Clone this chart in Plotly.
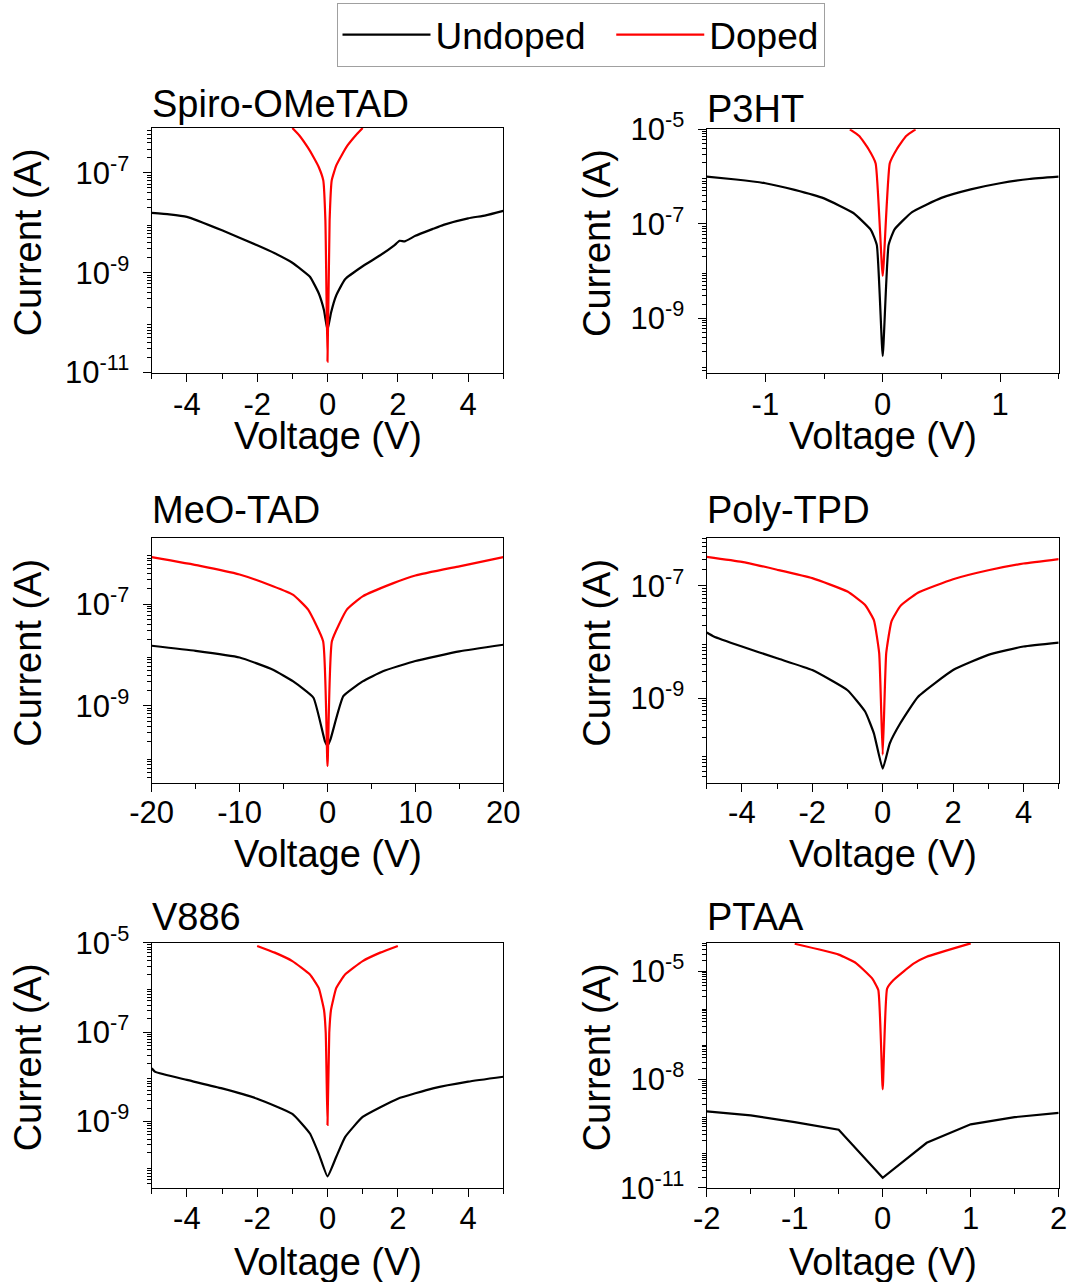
import plotly.graph_objects as go

W, H = 1072, 1282

# ---------------- data: voltage (V) and log10 of current (A) ----------------
spiro_undoped_v = [-5, -4.5, -4, -3, -2, -1.5, -1, -0.5, -0.25, -0.1, 0, 0.1, 0.25, 0.5, 1, 1.5, 1.9, 2.05, 2.2, 2.5, 3, 3.3, 4, 4.5, 5]
spiro_undoped_log = [-7.80, -7.83, -7.88, -8.15, -8.45, -8.61, -8.80, -9.08, -9.41, -9.75, -10.15, -9.80, -9.45, -9.13, -8.87, -8.65, -8.45, -8.36, -8.37, -8.26, -8.12, -8.04, -7.91, -7.85, -7.76]
spiro_doped_v = [-1, -0.8, -0.57, -0.4, -0.25, -0.12, -0.06, 0, 0.06, 0.12, 0.25, 0.4, 0.57, 0.8, 1]
spiro_doped_log = [-6.10, -6.25, -6.48, -6.68, -6.88, -7.15, -7.95, -10.78, -7.95, -7.15, -6.85, -6.65, -6.45, -6.25, -6.10]

p3ht_undoped_v = [-1.5, -1.25, -1, -0.75, -0.5, -0.25, -0.1, -0.05, 0, 0.05, 0.1, 0.25, 0.5, 0.75, 1, 1.25, 1.5]
p3ht_undoped_log = [-6.00, -6.06, -6.14, -6.28, -6.46, -6.77, -7.13, -7.45, -9.80, -7.45, -7.12, -6.75, -6.45, -6.27, -6.14, -6.05, -6.00]
p3ht_doped_v = [-0.28, -0.2, -0.12, -0.06, 0, 0.06, 0.12, 0.2, 0.28]
p3ht_doped_log = [-5.00, -5.14, -5.42, -5.72, -8.10, -5.72, -5.42, -5.14, -5.00]

meo_undoped_v = [-20, -15, -10, -6.2, -3.9, -1.6, -0.3, 0, 0.35, 1.8, 4, 6.3, 10, 15, 20]
meo_undoped_log = [-7.82, -7.92, -8.05, -8.29, -8.52, -8.84, -9.69, -9.78, -9.65, -8.81, -8.52, -8.32, -8.12, -7.93, -7.80]
meo_doped_v = [-20, -14.5, -10, -6.2, -3.9, -2.2, -0.5, 0, 0.5, 2.2, 4, 7.5, 10, 15, 20]
meo_doped_log = [-6.08, -6.25, -6.42, -6.65, -6.82, -7.11, -7.73, -10.18, -7.73, -7.11, -6.85, -6.59, -6.44, -6.26, -6.08]

ptpd_undoped_v = [-5, -4.8, -4, -3, -2, -1, -0.5, -0.25, 0, 0.2, 0.5, 1, 2, 3, 4, 5]
ptpd_undoped_log = [-7.83, -7.90, -8.08, -8.29, -8.50, -8.86, -9.24, -9.63, -10.26, -9.81, -9.45, -8.98, -8.50, -8.23, -8.08, -8.01]
ptpd_doped_v = [-5, -4, -3, -2, -1, -0.5, -0.25, -0.1, 0, 0.1, 0.25, 0.5, 1, 2, 3, 4, 5]
ptpd_doped_log = [-6.48, -6.57, -6.71, -6.86, -7.10, -7.34, -7.61, -8.20, -10.01, -8.20, -7.63, -7.36, -7.12, -6.88, -6.72, -6.60, -6.52]

v886_undoped_v = [-5, -4.9, -4, -3, -2, -1, -0.5, -0.25, 0, 0.25, 0.5, 1, 2, 3, 4, 5]
v886_undoped_log = [-7.81, -7.89, -8.07, -8.26, -8.49, -8.83, -9.27, -9.72, -10.23, -9.79, -9.35, -8.90, -8.49, -8.26, -8.11, -8.00]
v886_doped_v = [-2, -1.5, -1, -0.5, -0.25, -0.1, -0.05, 0, 0.05, 0.1, 0.25, 0.5, 1, 1.5, 2]
v886_doped_log = [-5.07, -5.22, -5.41, -5.71, -6.01, -6.50, -7.02, -9.08, -7.02, -6.50, -6.01, -5.71, -5.41, -5.22, -5.07]

ptaa_undoped_v = [-2, -1.5, -1, -0.5, 0, 0.5, 1, 1.5, 2]
ptaa_undoped_log = [-8.88, -8.99, -9.18, -9.39, -10.72, -9.75, -9.24, -9.04, -8.92]
ptaa_doped_v = [-1, -0.5, -0.3, -0.12, -0.05, 0, 0.05, 0.12, 0.35, 0.5, 1]
ptaa_doped_log = [-4.24, -4.54, -4.78, -5.20, -5.52, -8.27, -5.48, -5.25, -4.79, -4.60, -4.23]

panel_titles = ["Spiro-OMeTAD", "P3HT", "MeO-TAD", "Poly-TPD", "V886", "PTAA"]
series_names = ["Undoped", "Doped"]

# labelled and unlabelled decade ticks (exponents) per panel
spiro_ylab, spiro_yunl = [-11, -9, -7], [-10, -8]
p3ht_ylab, p3ht_yunl = [-9, -7, -5], [-10, -8, -6]
meo_ylab, meo_yunl = [-9, -7], [-10, -8, -6]
ptpd_ylab, ptpd_yunl = [-9, -7], [-10, -8]
v886_ylab, v886_yunl = [-9, -7, -5], [-10, -8, -6]
ptaa_ylab, ptaa_yunl = [-11, -8, -5], [-10, -9, -7, -6]

# ---------------- panel layout (pixels) ----------------
FONT = "Liberation Sans, Arial, sans-serif"
panels = [
    dict(title=panel_titles[0], und=(spiro_undoped_v, spiro_undoped_log), dop=(spiro_doped_v, spiro_doped_log),
         box=(151.7, 503.3, 128.0, 372.7), xr=[-5, 5], xmaj=[-4, -2, 0, 2, 4], xmin=[-5, -3, -1, 1, 3, 5],
         yr=[-11.002, -6.1], lab=spiro_ylab, unl=spiro_yunl, tb=117, xt=436, xso=-4, lin=False),
    dict(title=panel_titles[1], und=(p3ht_undoped_v, p3ht_undoped_log), dop=(p3ht_doped_v, p3ht_doped_log),
         box=(706.7, 1058.7, 129.3, 372.7), xr=[-1.5, 1.5], xmaj=[-1, 0, 1], xmin=[-1.5, -0.5, 0.5, 1.5],
         yr=[-10.15, -4.998], lab=p3ht_ylab, unl=p3ht_yunl, tb=121.7, xt=436, xso=-4, lin=False),
    dict(title=panel_titles[2], und=(meo_undoped_v, meo_undoped_log), dop=(meo_doped_v, meo_doped_log),
         box=(151.7, 503.3, 538.3, 783.3), xr=[-20, 20], xmaj=[-20, -10, 0, 10, 20], xmin=[-15, -5, 5, 15],
         yr=[-10.52, -5.71], lab=meo_ylab, unl=meo_yunl, tb=523, xt=854, xso=-7, lin=False),
    dict(title=panel_titles[3], und=(ptpd_undoped_v, ptpd_undoped_log), dop=(ptpd_doped_v, ptpd_doped_log),
         box=(706.7, 1058.7, 538.3, 783.3), xr=[-5, 5], xmaj=[-4, -2, 0, 2, 4], xmin=[-5, -3, -1, 1, 3, 5],
         yr=[-10.52, -6.15], lab=ptpd_ylab, unl=ptpd_yunl, tb=523, xt=854, xso=-7, lin=False),
    dict(title=panel_titles[4], und=(v886_undoped_v, v886_undoped_log), dop=(v886_doped_v, v886_doped_log),
         box=(151.7, 503.3, 942.7, 1188.0), xr=[-5, 5], xmaj=[-4, -2, 0, 2, 4], xmin=[-5, -3, -1, 1, 3, 5],
         yr=[-10.49, -4.998], lab=v886_ylab, unl=v886_yunl, tb=930, xt=1262, xso=-5, lin=False),
    dict(title=panel_titles[5], und=(ptaa_undoped_v, ptaa_undoped_log), dop=(ptaa_doped_v, ptaa_doped_log),
         box=(706.7, 1058.7, 942.7, 1188.0), xr=[-2, 2], xmaj=[-2, -1, 0, 1, 2], xmin=[-1.5, -0.5, 0.5, 1.5],
         yr=[-11.002, -4.21], lab=ptaa_ylab, unl=ptaa_yunl, tb=930, xt=1262, xso=-5, lin=True),
]

fig = go.Figure()
annotations = []

for i, p in enumerate(panels):
    n = i + 1
    xs = "" if n == 1 else str(n)
    x0, x1, yt, yb = p["box"]
    for (v, lg), name, color, key in [(p["und"], series_names[0], "black", "u"),
                                      (p["dop"], series_names[1], "red", "d")]:
        linear = p["lin"] and key == "u"
        fig.add_trace(go.Scatter(
            x=v, y=[10 ** e for e in lg], mode="lines", name=name, legendgroup=name,
            showlegend=(i == 0),
            line=dict(color=color, width=2.2, shape="linear" if linear else "spline",
                      smoothing=0.4),
            xaxis="x" + xs, yaxis="y" + xs))

    lo = int(p["yr"][0]) - 1
    hi = int(p["yr"][1]) + 1
    minor_vals = [k * 10.0 ** e for e in range(lo, hi) for k in range(2, 10)]

    common = dict(showline=True, linecolor="black", linewidth=1.3, mirror=True,
                  ticks="outside", tickcolor="black", tickwidth=1.3, ticklen=8,
                  showgrid=False, zeroline=False,
                  tickfont=dict(family=FONT, size=31, color="black"))
    fig.layout["xaxis" + xs] = dict(
        common, domain=[x0 / W, x1 / W], anchor="y" + xs, range=p["xr"],
        tickmode="array", tickvals=p["xmaj"], ticktext=[("%g" % t) for t in p["xmaj"]],
        minor=dict(tickmode="array", tickvals=p["xmin"], ticks="outside", ticklen=5,
                   tickwidth=1.3, tickcolor="black"),
        ticklabelstandoff=p["xso"])
    fig.layout["yaxis" + xs] = dict(
        common, domain=[1 - yb / H, 1 - yt / H], anchor="x" + xs, type="log", range=p["yr"],
        tickmode="array", tickvals=[10.0 ** e for e in p["lab"]],
        ticktext=["10<sup>%d</sup>" % e for e in p["lab"]],
        minor=dict(tickmode="array", tickvals=minor_vals, ticks="outside", ticklen=4,
                   tickwidth=1, tickcolor="black"),
        ticklabelstandoff=7)
    # overlay axis carrying the unlabelled decade ticks (same length as labelled ones)
    fig.layout["yaxis" + str(n + 6)] = dict(
        overlaying="y" + xs, anchor="x" + xs, side="left", type="log", range=p["yr"],
        tickmode="array", tickvals=[10.0 ** e for e in p["unl"]], showticklabels=False,
        ticks="outside", ticklen=8, tickwidth=1.3, tickcolor="black",
        showline=False, showgrid=False, zeroline=False)

    # panel title
    annotations.append(dict(text=p["title"], x=x0 / W - 0.002, y=1 - (p["tb"] - 13) / H,
                            xref="paper", yref="paper", xanchor="left", yanchor="middle",
                            showarrow=False, font=dict(family=FONT, size=38, color="black")))
    # x title
    annotations.append(dict(text="Voltage (V)", x=(x0 + x1) / 2 / W, y=1 - p["xt"] / H,
                            xref="paper", yref="paper", xanchor="center", yanchor="middle",
                            showarrow=False, font=dict(family=FONT, size=38, color="black")))
    # y title
    ytx = 28 if x0 < 400 else 597
    annotations.append(dict(text="Current (A)", x=ytx / W, y=1 - ((yt + yb) / 2 - 8) / H,
                            xref="paper", yref="paper", xanchor="center", yanchor="middle",
                            textangle=-90, showarrow=False,
                            font=dict(family=FONT, size=38, color="black")))

fig.update_layout(
    width=W, height=H, margin=dict(l=0, r=0, t=0, b=0, autoexpand=False),
    paper_bgcolor="white", plot_bgcolor="white",
    annotations=annotations,
    legend=dict(orientation="h", x=580.5 / W, xanchor="center", y=1 - 3 / H, yanchor="top",
                bordercolor="#a0a0a0", borderwidth=1, bgcolor="white",
                font=dict(family=FONT, size=37, color="black"), itemwidth=88,
                traceorder="normal"),
)
# spacing between legend entries as in the reference
fig.data[0].name = series_names[0] + "\u00a0\u00a0"

fig.write_html("out.html")
